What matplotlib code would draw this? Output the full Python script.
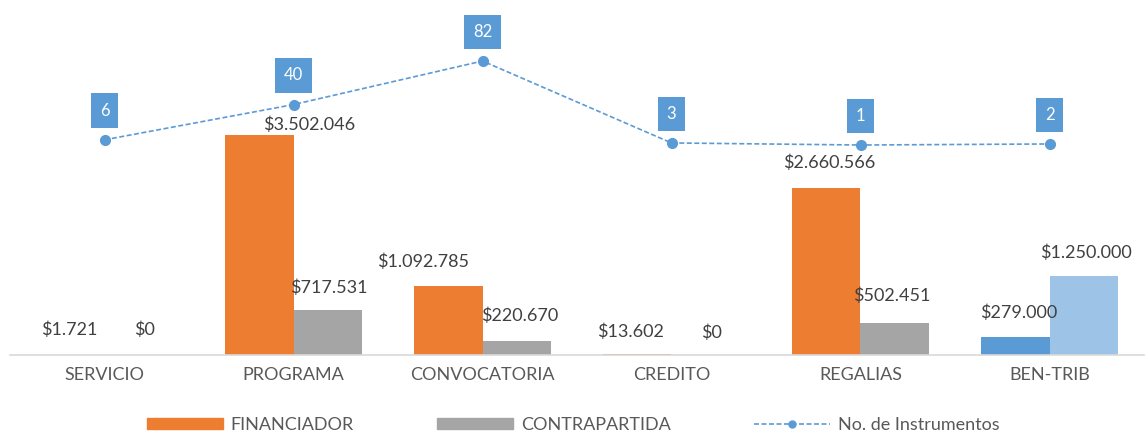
import numpy as np
import matplotlib.pyplot as plt
from matplotlib.lines import Line2D
from matplotlib.patches import Patch

plt.rcParams['font.family'] = ['Lato', 'DejaVu Sans']

# data
categorias = ["SERVICIO", "PROGRAMA", "CONVOCATORIA", "CREDITO", "REGALIAS", "BEN-TRIB"]
financiador = [1721, 3502046, 1092785, 13602, 2660566, 279000]
contrapartida = [0, 717531, 220670, 0, 502451, 1250000]
instrumentos = [6, 40, 82, 3, 1, 2]

c_fin = ['#ED7D31'] * 5 + ['#5B9BD5']
c_con = ['#A5A5A5'] * 5 + ['#9DC3E6']
blue = '#5B9BD5'
txt = '#404040'

def fmt(v):
    return '$' + f'{v:,}'.replace(',', '.')

fig = plt.figure(figsize=(11.46, 4.34), dpi=100)
ax = fig.add_axes([10/1146, 79/434, 1134/1146, 345/434])
x = np.arange(len(categorias))
w = 0.36

b1 = ax.bar(x - w/2, financiador, w, color=c_fin, zorder=2)
b2 = ax.bar(x + w/2, contrapartida, w, color=c_con, zorder=2)

ax.set_xlim(-0.5, len(categorias) - 0.5)
ax.set_ylim(0, 5.49e6)
ax.set_yticks([])
ax.set_xticks(x)
ax.set_xticklabels(categorias, fontsize=13, color='#595959')
ax.tick_params(axis='x', length=0, pad=9)
for s in ['top', 'right', 'left']:
    ax.spines[s].set_visible(False)
ax.spines['bottom'].set_color('#D9D9D9')
ax.spines['bottom'].set_linewidth(1.2)

# label offsets (points) for value labels
off_fin = [(-1, 18), (36, 7), (-18, 18), (-5, 16), (2, 18), (2, 18)]
off_con = [(4, 18), (1, 16), (2, 18), (4, 16), (-2, 20), (2, 17)]
for i in range(len(categorias)):
    ax.annotate(fmt(financiador[i]), (x[i] - w/2, financiador[i]),
                xytext=off_fin[i], textcoords='offset points',
                ha='center', va='center', fontsize=13, color=txt)
    ax.annotate(fmt(contrapartida[i]), (x[i] + w/2, contrapartida[i]),
                xytext=off_con[i], textcoords='offset points',
                ha='center', va='center', fontsize=13, color=txt)

ax2 = ax.twinx()
ax2.set_ylim(-201.5, 131.2)
ax2.plot(x, instrumentos, color=blue, ls='--', lw=1.2, marker='o', ms=7,
         dashes=(3, 1.5), zorder=3)
ax2.axis('off')
for i, v in enumerate(instrumentos):
    ax2.annotate(str(v), (x[i], v), xytext=(0, 21), textcoords='offset points',
                 ha='center', va='center', fontsize=12, color='white',
                 bbox=dict(boxstyle='square,pad=0.55', fc=blue, ec='none'))

handles = [Patch(color='#ED7D31'), Patch(color='#A5A5A5'),
           Line2D([0], [0], color=blue, ls='--', lw=1.2, marker='o', ms=5, dashes=(3, 1.5))]
fig.legend(handles, ['FINANCIADOR', 'CONTRAPARTIDA', 'No. de Instrumentos'],
           loc='center', bbox_to_anchor=(0.5, 9/434), ncol=3, frameon=False,
           fontsize=13, labelcolor='#595959', handlelength=4.2, handleheight=0.6,
           columnspacing=4.6, handletextpad=0.45)

fig.savefig('out.png', dpi=100)
